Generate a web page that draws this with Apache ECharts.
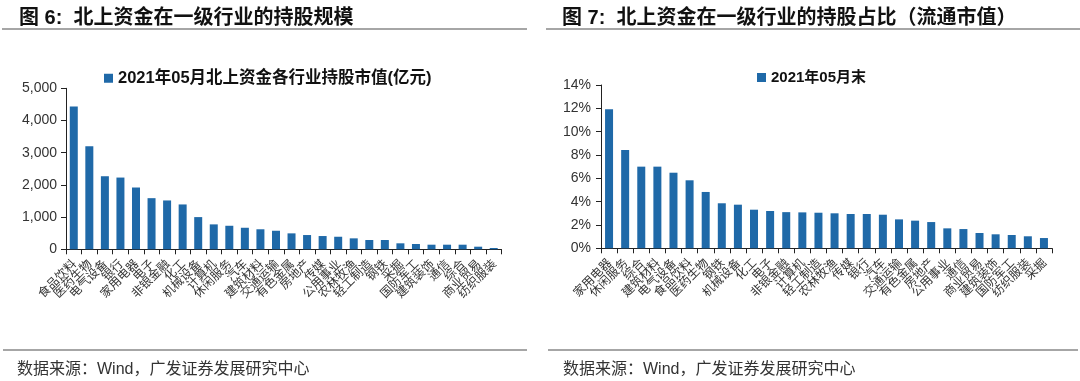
<!DOCTYPE html>
<html>
<head>
<meta charset="utf-8">
<script src="https://cdn.jsdelivr.net/npm/echarts@6/dist/echarts.min.js"></script>
<style>
html,body{margin:0;padding:0;background:#fff;}
#c{width:1080px;height:381px;}
</style>
</head>
<body>
<div id="c"></div>
<script>
// ---- data ----
const leftCategories = ['食品饮料','医药生物','电气设备','银行','家用电器','电子','非银金融','化工','机械设备','计算机','休闲服务','汽车','建筑材料','交通运输','有色金属','房地产','传媒','公用事业','农林牧渔','轻工制造','钢铁','采掘','国防军工','建筑装饰','通信','综合','商业贸易','纺织服装'];
const leftValues = [4437,3198,2269,2228,1919,1588,1517,1393,1000,774,731,669,622,576,495,443,412,390,340,288,288,186,164,143,143,143,81,40];
const leftSeriesName = '2021年05月北上资金各行业持股市值(亿元)';

const rightCategories = ['家用电器','休闲服务','综合','建筑材料','电气设备','食品饮料','医药生物','钢铁','机械设备','化工','电子','非银金融','计算机','轻工制造','农林牧渔','传媒','银行','汽车','交通运输','有色金属','房地产','公用事业','通信','商业贸易','建筑装饰','国防军工','纺织服装','采掘'];
const rightValues = [11.92,8.43,7.0,7.0,6.48,5.83,4.83,3.86,3.74,3.31,3.2,3.1,3.08,3.05,3.0,2.94,2.94,2.88,2.48,2.37,2.25,1.71,1.65,1.31,1.2,1.14,1.03,0.88];
const rightSeriesName = '2021年05月末';

const leftTitle = '图 6:  北上资金在一级行业的持股规模';
const rightTitle = '图 7:  北上资金在一级行业的持股占比（流通市值）';
const sourceText = '数据来源：Wind，广发证券发展研究中心';

// ---- chart ----
const BAR = '#1f69a8';
const FONT = 'Arial, "Liberation Sans", "Noto Sans CJK SC", sans-serif';
const chart = echarts.init(document.getElementById('c'), null, {renderer:'canvas'});

const catAxis = (idx, data) => ({
  type:'category', gridIndex:idx, data:data,
  axisLine:{lineStyle:{color:'#222', width:1}},
  axisTick:{show:true, length:5, lineStyle:{color:'#222'}},
  axisLabel:{interval:0, rotate:45, fontSize:12, color:'#333', margin:12,
    fontFamily:'"Noto Sans CJK SC", sans-serif'}
});

chart.setOption({
  animation:false,
  textStyle:{fontFamily:FONT},
  title:[
    {text:leftTitle, left:14, top:3, textStyle:{fontSize:20, fontWeight:'bold', color:'#111', fontFamily:FONT}},
    {text:rightTitle, left:557, top:3, textStyle:{fontSize:20, fontWeight:'bold', color:'#111', fontFamily:FONT}},
    {text:sourceText, left:12, top:357, textStyle:{fontSize:16, fontWeight:'normal', color:'#333', fontFamily:FONT}},
    {text:sourceText, left:558, top:357, textStyle:{fontSize:16, fontWeight:'normal', color:'#333', fontFamily:FONT}}
  ],
  graphic:[
    {type:'line', shape:{x1:2,y1:29,x2:527,y2:29}, style:{stroke:'#a6a6a6', lineWidth:2}},
    {type:'line', shape:{x1:546,y1:29,x2:1080,y2:29}, style:{stroke:'#a6a6a6', lineWidth:2}},
    {type:'line', shape:{x1:3,y1:350,x2:527,y2:350}, style:{stroke:'#a6a6a6', lineWidth:2}},
    {type:'line', shape:{x1:548,y1:350,x2:1078,y2:350}, style:{stroke:'#a6a6a6', lineWidth:2}}
  ],
  legend:[
    {data:[leftSeriesName], left:99, top:65, itemWidth:9, itemHeight:9, itemGap:4, icon:'rect',
      textStyle:{fontSize:16.5, fontWeight:'bold', color:'#111', fontFamily:FONT}},
    {data:[rightSeriesName], left:752, top:65, itemWidth:9, itemHeight:9, icon:'rect',
      textStyle:{fontSize:15, fontWeight:'bold', color:'#111', fontFamily:FONT}}
  ],
  grid:[
    {left:66, top:88.3, width:435.5, height:161},
    {left:601, top:85, width:451, height:163.3}
  ],
  xAxis:[catAxis(0, leftCategories), catAxis(1, rightCategories)],
  yAxis:[
    {type:'value', gridIndex:0, min:0, max:5000, interval:1000,
      axisLine:{show:true, lineStyle:{color:'#222'}},
      axisTick:{show:true, length:5, lineStyle:{color:'#222'}},
      splitLine:{show:false},
      axisLabel:{fontSize:14, color:'#333', margin:9,
        formatter:v => v.toLocaleString('en-US')}},
    {type:'value', gridIndex:1, min:0, max:14, interval:2,
      axisLine:{show:true, lineStyle:{color:'#222'}},
      axisTick:{show:true, length:5, lineStyle:{color:'#222'}},
      splitLine:{show:false},
      axisLabel:{fontSize:14, color:'#333', margin:10, formatter:'{value}%'}}
  ],
  series:[
    {name:leftSeriesName, type:'bar', xAxisIndex:0, yAxisIndex:0, data:leftValues,
      barWidth:8, itemStyle:{color:BAR}},
    {name:rightSeriesName, type:'bar', xAxisIndex:1, yAxisIndex:1, data:rightValues,
      barWidth:8, itemStyle:{color:BAR}}
  ]
});
</script>
</body>
</html>
